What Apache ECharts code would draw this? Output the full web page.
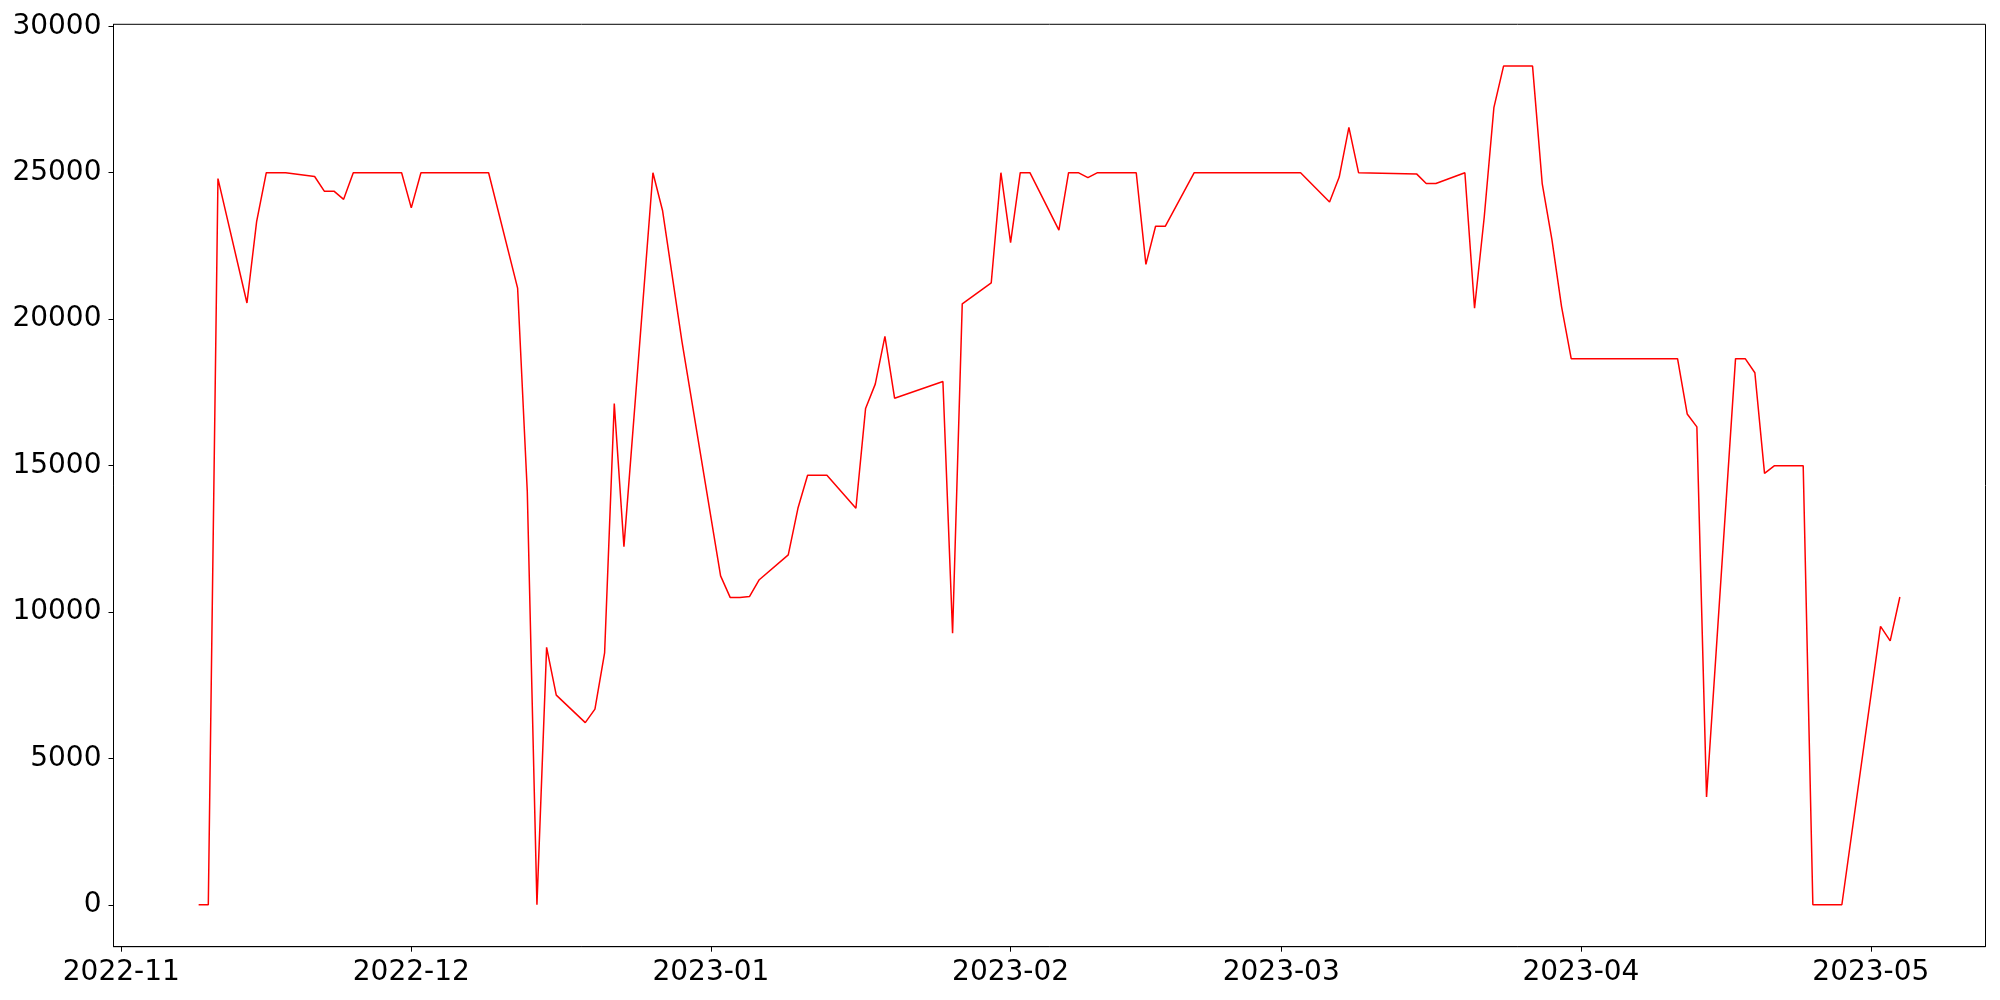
<!DOCTYPE html>
<html>
<head>
<meta charset="utf-8">
<script src="https://cdn.jsdelivr.net/npm/echarts@6/dist/echarts.min.js"></script>
<style>
html,body{margin:0;padding:0;background:#fff;}
#chart{width:2000px;height:1000px;}
</style>
</head>
<body>
<div id="chart"></div>
<script>
const dates = [
 '2022-11-09','2022-11-10','2022-11-11','2022-11-14','2022-11-15','2022-11-16','2022-11-18',
 '2022-11-21','2022-11-22','2022-11-23','2022-11-24','2022-11-25','2022-11-30','2022-12-01',
 '2022-12-02','2022-12-09','2022-12-12','2022-12-13','2022-12-14','2022-12-15','2022-12-16',
 '2022-12-19','2022-12-20','2022-12-21','2022-12-22','2022-12-23','2022-12-26','2022-12-27',
 '2022-12-29','2023-01-02','2023-01-03','2023-01-04','2023-01-05','2023-01-06','2023-01-09',
 '2023-01-10','2023-01-11','2023-01-13','2023-01-16','2023-01-17','2023-01-18','2023-01-19',
 '2023-01-20','2023-01-25','2023-01-26','2023-01-27','2023-01-30','2023-01-31','2023-02-01',
 '2023-02-02','2023-02-03','2023-02-06','2023-02-07','2023-02-08','2023-02-09','2023-02-10',
 '2023-02-14','2023-02-15','2023-02-16','2023-02-17','2023-02-20','2023-03-03','2023-03-06',
 '2023-03-07','2023-03-08','2023-03-09','2023-03-15','2023-03-16','2023-03-17','2023-03-20',
 '2023-03-21','2023-03-22','2023-03-23','2023-03-24','2023-03-27','2023-03-28','2023-03-29',
 '2023-03-30','2023-03-31','2023-04-11','2023-04-12','2023-04-13','2023-04-14','2023-04-17',
 '2023-04-18','2023-04-19','2023-04-20','2023-04-21','2023-04-24','2023-04-25','2023-04-28',
 '2023-05-02','2023-05-03','2023-05-04'
];
const values = [
 0,0,24800,20550,23330,25000,25000,
 24870,24370,24370,24090,25000,25000,23800,
 25000,25000,21060,14120,0,8790,7160,
 6220,6680,8600,17120,12230,25000,23700,
 19240,11230,10490,10490,10530,11100,11950,
 13540,14670,14670,13540,16950,17780,19410,
 17300,17870,9270,20520,21240,25000,22610,
 25000,25000,23040,25000,25000,24830,25000,
 25000,21870,23170,23170,25000,25000,24000,
 24850,26550,25000,24960,24630,24630,25000,
 20370,23480,27220,28640,28640,24630,22720,
 20430,18650,18650,16760,16320,3680,18650,
 18650,18170,14730,14990,14990,0,0,
 9510,9010,10510
];
const xTickDates = ['2022-11-01','2022-12-01','2023-01-01','2023-02-01','2023-03-01','2023-04-01','2023-05-01'];
const yTicks = [0,5000,10000,15000,20000,25000,30000];

const DAY = 86400000;
const t0 = Date.parse('2022-11-01');
const xMin = t0 - 0.807 * DAY;
const xMax = t0 + 192.86 * DAY;
const xTicks = xTickDates.map(d => Date.parse(d));
const seriesData = dates.map((d, i) => [Date.parse(d), values[i]]);

const font = 'DejaVu Sans';
const chart = echarts.init(document.getElementById('chart'), null, {renderer: 'canvas'});
chart.setOption({
  animation: false,
  backgroundColor: '#ffffff',
  grid: {left: 113.5, right: 14.5, top: 24.3, bottom: 53.3, show: true, borderColor: '#000', borderWidth: 1, backgroundColor: 'transparent'},
  xAxis: {
    type: 'value', min: xMin, max: xMax,
    splitLine: {show: false},
    axisLine: {show: true, onZero: false, lineStyle: {color: '#000', width: 1}},
    axisTick: {show: true, customValues: xTicks, length: 5, inside: false, lineStyle: {color: '#000', width: 1}},
    axisLabel: {
      customValues: xTicks, color: '#000', fontFamily: font, fontSize: 28, margin: 12,
      formatter: function (v) {
        const d = new Date(v);
        return d.getUTCFullYear() + '-' + String(d.getUTCMonth() + 1).padStart(2, '0');
      }
    }
  },
  yAxis: {
    type: 'value', min: -1432, max: 30068,
    splitLine: {show: false},
    axisLine: {show: true, onZero: false, lineStyle: {color: '#000', width: 1}},
    axisTick: {show: true, customValues: yTicks, length: 5, lineStyle: {color: '#000', width: 1}},
    axisLabel: {customValues: yTicks, color: '#000', fontFamily: font, fontSize: 28, margin: 12,
      formatter: function (v) { return String(Math.round(v)); }}
  },
  series: [{
    type: 'line', data: seriesData, showSymbol: false, symbol: 'none',
    lineStyle: {color: '#ff0000', width: 1.5}, itemStyle: {color: '#ff0000'}
  }]
});
</script>
</body>
</html>
